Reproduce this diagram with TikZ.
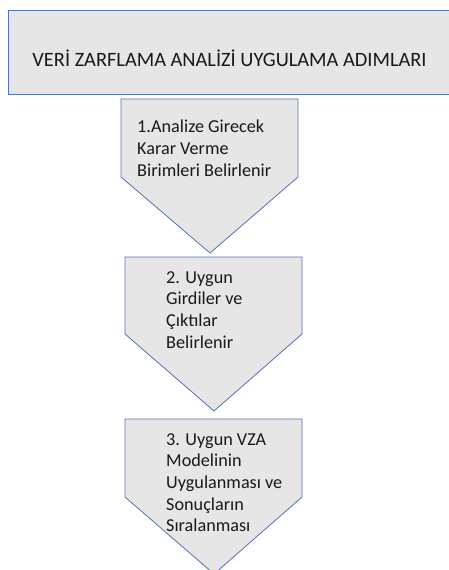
\documentclass[tikz,border=0pt]{standalone}
\usepackage{fontspec}
\setmainfont{Carlito}
\definecolor{boxfill}{RGB}{231,230,230}
\definecolor{boxline}{RGB}{84,114,178}
\begin{document}
\begin{tikzpicture}[x=1bp,y=-1bp,
  shapebox/.style={fill=boxfill,draw=boxline,line width=0.8bp,line join=miter},
  steptext/.style={anchor=north west,inner sep=0pt,align=left,text=black!90,
    font=\fontsize{18.2bp}{21.7bp}\selectfont}]
\useasboundingbox (0,0) rectangle (449,570);
\clip (0,0) rectangle (449,570);
\fill[white] (0,0) rectangle (449,570);
% title box
\draw[shapebox] (460,10) -- (8,10) -- (8,94) -- (460,94);
\node[anchor=base,inner sep=0pt,text=black!90,font=\fontsize{20.4bp}{24bp}\selectfont] (title) at (229.5,67) {VERİ ZARFLAMA ANALİZİ UYGULAMA ADIMLARI};
% step 1
\draw[shapebox] (121,99) -- (298,99) -- (298,177) -- (210,253) -- (121,177) -- cycle;
\node[steptext] (s1) at (137,120) {1.Analize Girecek\\Karar Verme\\Birimleri Belirlenir};
% step 2
\draw[shapebox] (125,257) -- (302,257) -- (302,334) -- (214,411) -- (125,334) -- cycle;
\node[steptext] (s2) at (166,271) {2. Uygun\\Girdiler ve\\Çıktılar\\Belirlenir};
% step 3
\draw[shapebox] (125,419) -- (302,419) -- (302,497) -- (214,574) -- (125,497) -- cycle;
\node[steptext] (s3) at (166,433) {3. Uygun VZA\\Modelinin\\Uygulanması ve\\Sonuçların\\Sıralanması};
\end{tikzpicture}
\end{document}
